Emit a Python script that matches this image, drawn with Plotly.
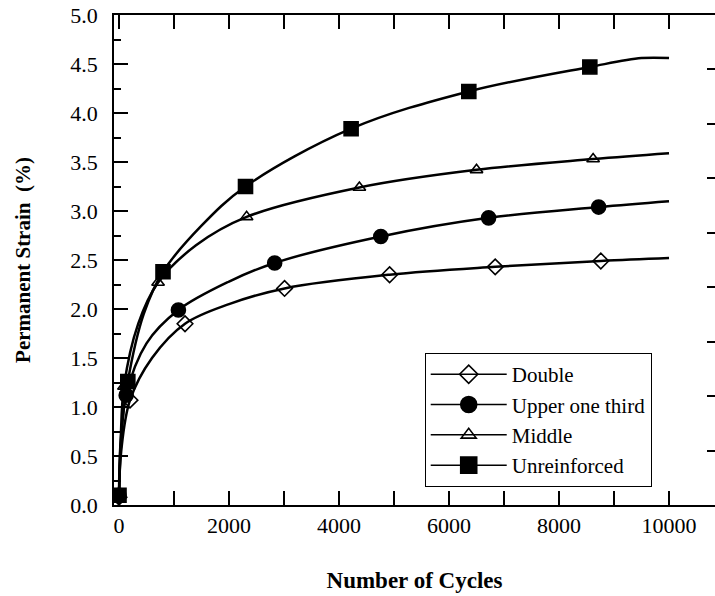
import plotly.graph_objects as go

# Marker data (cycles, permanent strain %)
double_n = [0, 200, 1200, 3010, 4920, 6840, 8760]
double_s = [0.08, 1.07, 1.85, 2.21, 2.35, 2.43, 2.49]
upper_n = [0, 130, 1080, 2830, 4760, 6720, 8720]
upper_s = [0.10, 1.12, 1.99, 2.47, 2.74, 2.93, 3.04]
middle_n = [0, 90, 710, 2320, 4370, 6500, 8620]
middle_s = [0.10, 1.21, 2.27, 2.94, 3.24, 3.42, 3.53]
unre_n = [0, 160, 800, 2300, 4220, 6360, 8560]
unre_s = [0.10, 1.26, 2.38, 3.25, 3.84, 4.22, 4.47]

# Fitted curve points
double_cn = [0, 40, 200, 600, 1200, 2000, 3010, 4920, 6840, 8760, 10000]
double_cs = [0.08, 0.55, 1.07, 1.50, 1.85, 2.05, 2.21, 2.35, 2.43, 2.49, 2.52]
upper_cn = [0, 35, 130, 500, 1080, 2000, 2830, 4760, 6720, 8720, 10000]
upper_cs = [0.10, 0.60, 1.12, 1.65, 1.99, 2.28, 2.47, 2.74, 2.93, 3.04, 3.10]
middle_cn = [0, 30, 90, 350, 710, 1400, 2320, 4370, 6500, 8620, 10000]
middle_cs = [0.10, 0.65, 1.21, 1.85, 2.27, 2.65, 2.94, 3.24, 3.42, 3.53, 3.59]
unre_cn = [0, 30, 160, 450, 800, 1500, 2300, 4220, 6360, 8560, 9500, 10000]
unre_cs = [0.10, 0.65, 1.26, 1.95, 2.38, 2.85, 3.25, 3.84, 4.22, 4.47, 4.56, 4.56]

x_ticks = [0, 2000, 4000, 6000, 8000, 10000]
x_ticktext = ["0", "2000", "4000", "6000", "8000", "10000"]

names = ["Double", "Upper one third", "Middle", "Unreinforced"]
symbols = ["diamond-open", "circle", "triangle-up-open", "square"]
sizes = [12, 14, 11, 14]

series = [
    (double_n, double_s, double_cn, double_cs),
    (upper_n, upper_s, upper_cn, upper_cs),
    (middle_n, middle_s, middle_cn, middle_cs),
    (unre_n, unre_s, unre_cn, unre_cs),
]

FONT = "Liberation Serif, Times New Roman, Times, serif"
fig = go.Figure()
for i, (mn, ms, cn, cs) in enumerate(series):
    fig.add_trace(go.Scatter(
        x=cn, y=cs, mode="lines", line=dict(color="black", width=2.5, shape="spline", smoothing=1.0),
        showlegend=False, hoverinfo="skip"))
for i, (mn, ms, cn, cs) in enumerate(series):
    fig.add_trace(go.Scatter(
        x=mn, y=ms, mode="markers", name=names[i],
        marker=dict(symbol=symbols[i], size=sizes[i], color="black",
                    line=dict(color="black", width=1.6)),
        showlegend=False))
    # legend proxy
    fig.add_trace(go.Scatter(
        x=[None], y=[None], mode="lines+markers", name=names[i],
        line=dict(color="black", width=1.5),
        marker=dict(symbol=symbols[i], size=sizes[i] + 2, color="black",
                    line=dict(color="black", width=1.6))))

fig.update_layout(
    width=715, height=596,
    margin=dict(l=114, r=0, t=15, b=91),
    paper_bgcolor="white", plot_bgcolor="white",
    font=dict(family=FONT, color="black", size=21),
    showlegend=True,
    legend=dict(x=0.517, y=0.31, xanchor="left", yanchor="top",
                bordercolor="black", borderwidth=1, bgcolor="white",
                font=dict(family=FONT, size=21), itemwidth=76,
                tracegroupgap=0),
    xaxis=dict(range=[-91, 10836], tickvals=x_ticks, ticktext=x_ticktext,
               ticks="inside", ticklen=14, tickwidth=1.5, tickcolor="black",
               minor=dict(tickvals=[1000, 3000, 5000, 7000, 9000], ticks="inside", ticklen=8, tickwidth=1.5, tickcolor="black"),
               showline=True, linecolor="black", linewidth=1.5, mirror="allticks",
               showgrid=False, zeroline=False,
               tickfont=dict(family=FONT, size=22),
               title=dict(text="<b>Number of Cycles</b>", font=dict(family=FONT, size=23), standoff=35)),
    yaxis=dict(range=[0, 5], dtick=0.5, tickformat=".1f",
               ticks="inside", ticklen=14, tickwidth=1.5, tickcolor="black",
               minor=dict(dtick=0.25, ticks="inside", ticklen=7, tickwidth=1.5, tickcolor="black"),
               showline=True, linecolor="black", linewidth=1.5,
               showgrid=False, zeroline=False, ticklabelstandoff=10,
               tickfont=dict(family=FONT, size=22),
               title=dict(text="<b>Permanent Strain&nbsp; (%)</b>", font=dict(family=FONT, size=21), standoff=34)),
    yaxis2=dict(range=[0, 9], dtick=1, overlaying="y", side="right",
                ticks="inside", ticklen=8, tickwidth=1.5, tickcolor="black",
                showline=False, showgrid=False, zeroline=False, showticklabels=False),
)
fig.add_trace(go.Scatter(x=[None], y=[None], yaxis="y2", showlegend=False))

fig.write_html("out.html")
